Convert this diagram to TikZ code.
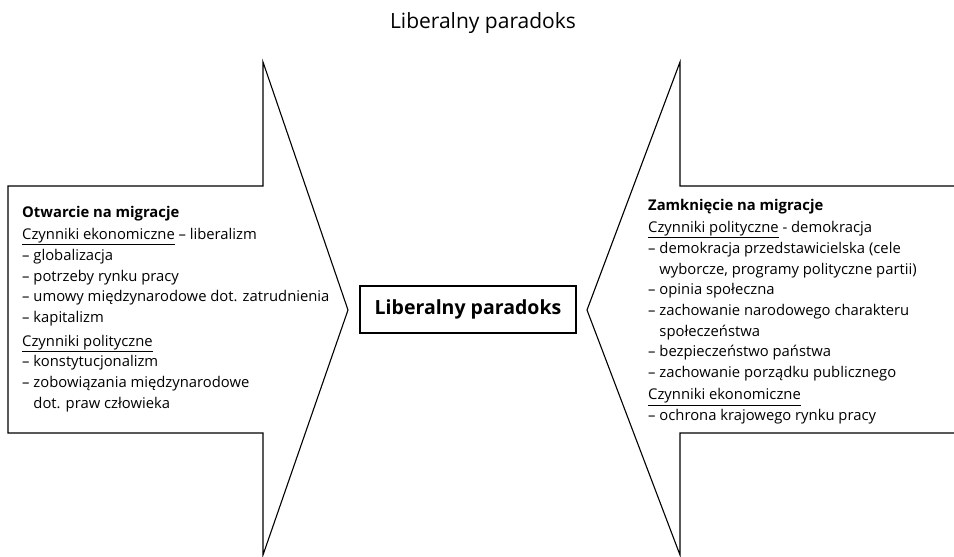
\documentclass[tikz,border=0pt]{standalone}
\usepackage{fontspec}
\setmainfont{Open Sans}
\usetikzlibrary{positioning}

\begin{document}
\begin{tikzpicture}[x=1pt, y=-1pt,
	strzalka/.style={draw=black, line width=1.1pt, line join=miter},
	opis/.style={rectangle, draw=none, inner sep=0pt, align=left, anchor=north west,
		font=\fontsize{14.8}{20.7}\selectfont},
	srodek/.style={rectangle, draw=black, line width=1.1pt, minimum width=216pt,
		minimum height=47pt, text centered, font=\fontsize{19.5}{22}\selectfont\bfseries},
	tytul/.style={rectangle, draw=none, inner sep=0pt, anchor=base, font=\fontsize{21}{24}\selectfont}
	]
	\useasboundingbox (0,0) rectangle (954,557);
	\node (tytul) [tytul] at (483,28) {Liberalny paradoks};
	\draw[strzalka] (8,186) -- (263,186) -- (263,62) -- (348,310) -- (263,555)
		-- (263,433) -- (8,433) -- cycle;
	\draw[strzalka] (954,186) -- (680,186) -- (680,62) -- (587,310) -- (680,555)
		-- (680,433) -- (954,433);
	\node (paradoks) [srodek] at (468,309.5) {Liberalny paradoks};
	\node (otwarcie) [opis] at (22,206) {\textbf{Otwarcie na migracje}\\[1.5pt]
		\underline{Czynniki ekonomiczne} – liberalizm\\
		– globalizacja\\
		– potrzeby rynku pracy\\
		– umowy międzynarodowe dot. zatrudnienia\\
		– kapitalizm\\[3pt]
		\underline{Czynniki polityczne}\\
		– konstytucjonalizm\\
		– zobowiązania międzynarodowe\\
		\phantom{– }dot. praw człowieka};
	\node (zamkniecie) [opis] at (648,199) {\textbf{Zamknięcie na migracje}\\[1.5pt]
		\underline{Czynniki polityczne} - demokracja\\
		– demokracja przedstawicielska (cele\\
		\phantom{– }wyborcze, programy polityczne partii)\\
		– opinia społeczna\\
		– zachowanie narodowego charakteru\\
		\phantom{– }społeczeństwa\\
		– bezpieczeństwo państwa\\
		– zachowanie porządku publicznego\\[1.5pt]
		\underline{Czynniki ekonomiczne}\\
		– ochrona krajowego rynku pracy};
\end{tikzpicture}
\end{document}
